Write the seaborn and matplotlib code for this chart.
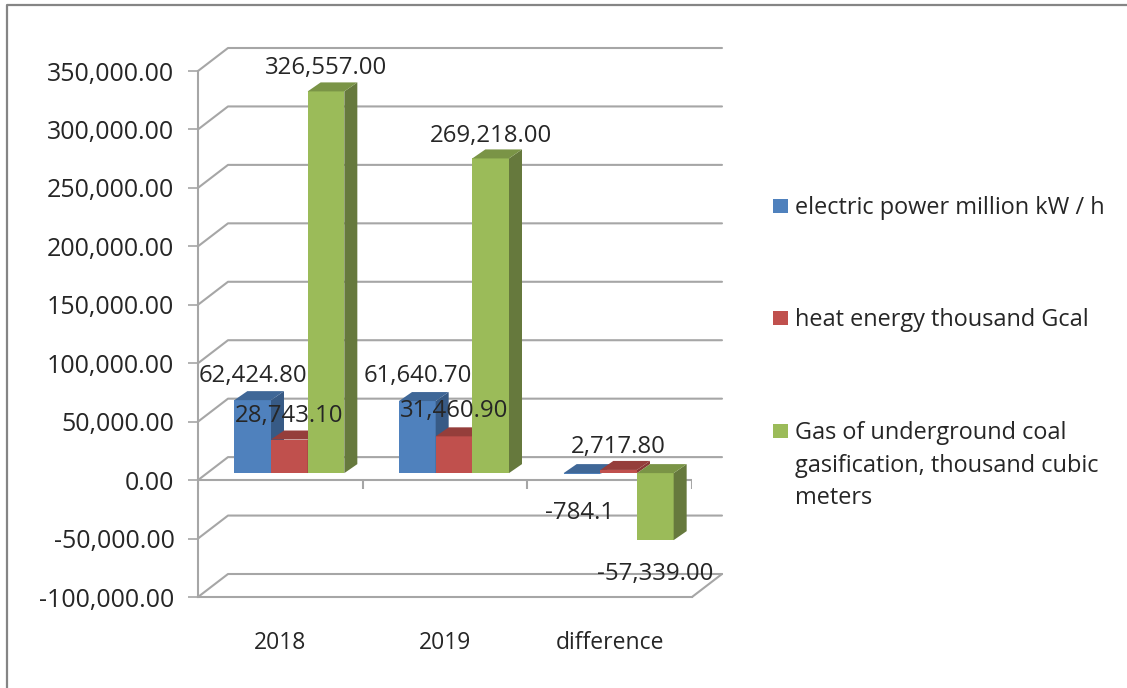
import matplotlib
matplotlib.use('Agg')
import matplotlib.pyplot as plt
from matplotlib.lines import Line2D
from matplotlib.patches import Polygon, Rectangle
from matplotlib.ticker import FuncFormatter
from matplotlib.transforms import IdentityTransform
import pandas as pd
import seaborn as sns

# Values
categories = ['2018', '2019', 'difference']
series_names = ['electric power million kW / h',
                'heat energy thousand Gcal',
                'Gas of underground coal\ngasification, thousand cubic\nmeters']
electric = [62424.80, 61640.70, -784.1]
heat = [28743.10, 31460.90, 2717.80]
gas = [326557.00, 269218.00, -57339.00]
electric_labels = ['62,424.80', '61,640.70', '-784.1']
heat_labels = ['28,743.10', '31,460.90', '2,717.80']
gas_labels = ['326,557.00', '269,218.00', '-57,339.00']
y_ticks = [-100000, -50000, 0, 50000, 100000, 150000, 200000, 250000, 300000, 350000]

sns.set_style('white')
plt.rcParams['font.family'] = ['Open Sans', 'DejaVu Sans']

W, H = 1127, 688
TEXT = '#262626'
GRID = '#a6a6a6'
front = ['#4F81BD', '#C0504D', '#9BBB59']
top = ['#3F6797', '#953E3B', '#7A9446']
side = ['#375A85', '#8A3836', '#66793D']

df = pd.DataFrame({
    'category': categories * 3,
    'series': [s for s in series_names for _ in categories],
    'value': electric + heat + gas,
})

fig = plt.figure(figsize=(W / 100, H / 100), dpi=100, facecolor='white')
ax = fig.add_axes([198 / W, (H - 597) / H, 494 / W, 526 / H])
ax.patch.set_alpha(0)

sns.barplot(data=df, x='category', y='value', hue='series', hue_order=series_names,
            palette=front, width=0.668, gap=0, saturation=1, legend=False, linewidth=0, ax=ax)

ax.set_xlim(-0.5, 2.5)
ax.set_ylim(-100000, 350000)
ax.set_yticks(y_ticks)
ax.yaxis.set_major_formatter(FuncFormatter(lambda v, _: f'{v:,.2f}'))
ax.set_xlabel('')
ax.set_ylabel('')
ax.tick_params(axis='y', length=7, width=1.2, color=GRID, labelsize=18, labelcolor=TEXT, pad=10, left=True)
ax.tick_params(axis='x', length=0, labelsize=16.5, labelcolor=TEXT, pad=24.5)
for name in ['top', 'right']:
    ax.spines[name].set_visible(False)
for name in ['left', 'bottom']:
    ax.spines[name].set_color(GRID)
    ax.spines[name].set_linewidth(1.5)

# Zero line and category separators on the front plane
ax.axhline(0, color=GRID, lw=1.5, zorder=1)
ax.vlines([-0.5, 0.5, 1.5, 2.5], -8000, 0, color=GRID, lw=1.5, zorder=1)

fig.canvas.draw()

# Back wall: gridlines pushed back by the chart depth
DEPTH_X, DEPTH_Y = 30, 23
x0 = ax.transData.transform((-0.5, 0))[0]
x1 = ax.transData.transform((2.5, 0))[0]
for t in y_ticks:
    y = ax.transData.transform((0, t))[1]
    ax.add_line(Line2D([x0, x0 + DEPTH_X, x1 + DEPTH_X], [y, y + DEPTH_Y, y + DEPTH_Y],
                       transform=None, color=GRID, lw=1.5, clip_on=False, zorder=0.5))
y = ax.transData.transform((0, y_ticks[0]))[1]
ax.add_line(Line2D([x1, x1 + DEPTH_X], [y, y + DEPTH_Y], transform=None, color=GRID, lw=1.5,
                   clip_on=False, zorder=0.5))

# Bars sit in the middle of the floor, with their own depth
SHIFT_X, SHIFT_Y = 9, 7
BAR_X, BAR_Y = 13, 9
for i, container in enumerate(ax.containers):
    for rect in container:
        (bx0, by0) = ax.transData.transform((rect.get_x(), rect.get_y()))
        (bx1, by1) = ax.transData.transform((rect.get_x() + rect.get_width(),
                                             rect.get_y() + rect.get_height()))
        bx0, bx1 = bx0 + SHIFT_X, bx1 + SHIFT_X
        by0, by1 = by0 + SHIFT_Y, by1 + SHIFT_Y
        low, high = min(by0, by1), max(by0, by1)
        zb = 2 + bx0 / 10
        # shift the seaborn bar itself, then add its side and top faces
        rect.set_transform(IdentityTransform())
        rect.set_bounds(bx0, low, bx1 - bx0, high - low)
        rect.set_zorder(zb)
        rect.set_clip_on(False)
        ax.add_patch(Polygon([(bx1, low), (bx1 + BAR_X, low + BAR_Y), (bx1 + BAR_X, high + BAR_Y), (bx1, high)],
                             transform=None, fc=side[i], ec='none', zorder=zb, clip_on=False))
        ax.add_patch(Polygon([(bx0, high), (bx0 + BAR_X, high + BAR_Y), (bx1 + BAR_X, high + BAR_Y), (bx1, high)],
                             transform=None, fc=top[i], ec='none', zorder=zb, clip_on=False))

# Data labels
all_values = [electric, heat, gas]
all_labels = [electric_labels, heat_labels, gas_labels]
label_dy = [[24, 25, -39], [24, 25, 23], [23, 22, -34]]
label_dx = [[0, 0, -3], [0, 0, 0], [0, 0, 0]]
for i in range(3):
    for j in range(3):
        ax.annotate(all_labels[i][j], xy=(j - 0.668 / 3 + i * 0.668 / 3, all_values[i][j]), xycoords='data',
                    xytext=(SHIFT_X + label_dx[i][j], SHIFT_Y + label_dy[i][j]), textcoords='offset pixels',
                    ha='center', va='center', fontsize=17.3, color=TEXT, zorder=200, annotation_clip=False)

# Legend on the right
legend_rows = [206, 318, 431]
for name, color, row in zip(series_names, front, legend_rows):
    fig.add_artist(Rectangle((773 / W, 1 - (row + 7) / H), 15 / W, 14 / H, transform=fig.transFigure,
                             fc=color, ec='none'))
    fig.text(795 / W, 1 - (row - 10) / H, name, ha='left', va='top', fontsize=16.9, color=TEXT, linespacing=1.48)

# Outer chart frame, cut off at the right and bottom
fig.add_artist(Line2D([7 / W, 7 / W, 1], [0, 1 - 5 / H, 1 - 5 / H], transform=fig.transFigure,
                      color='#858585', lw=1.6))

fig.savefig('out.png', dpi=100)
